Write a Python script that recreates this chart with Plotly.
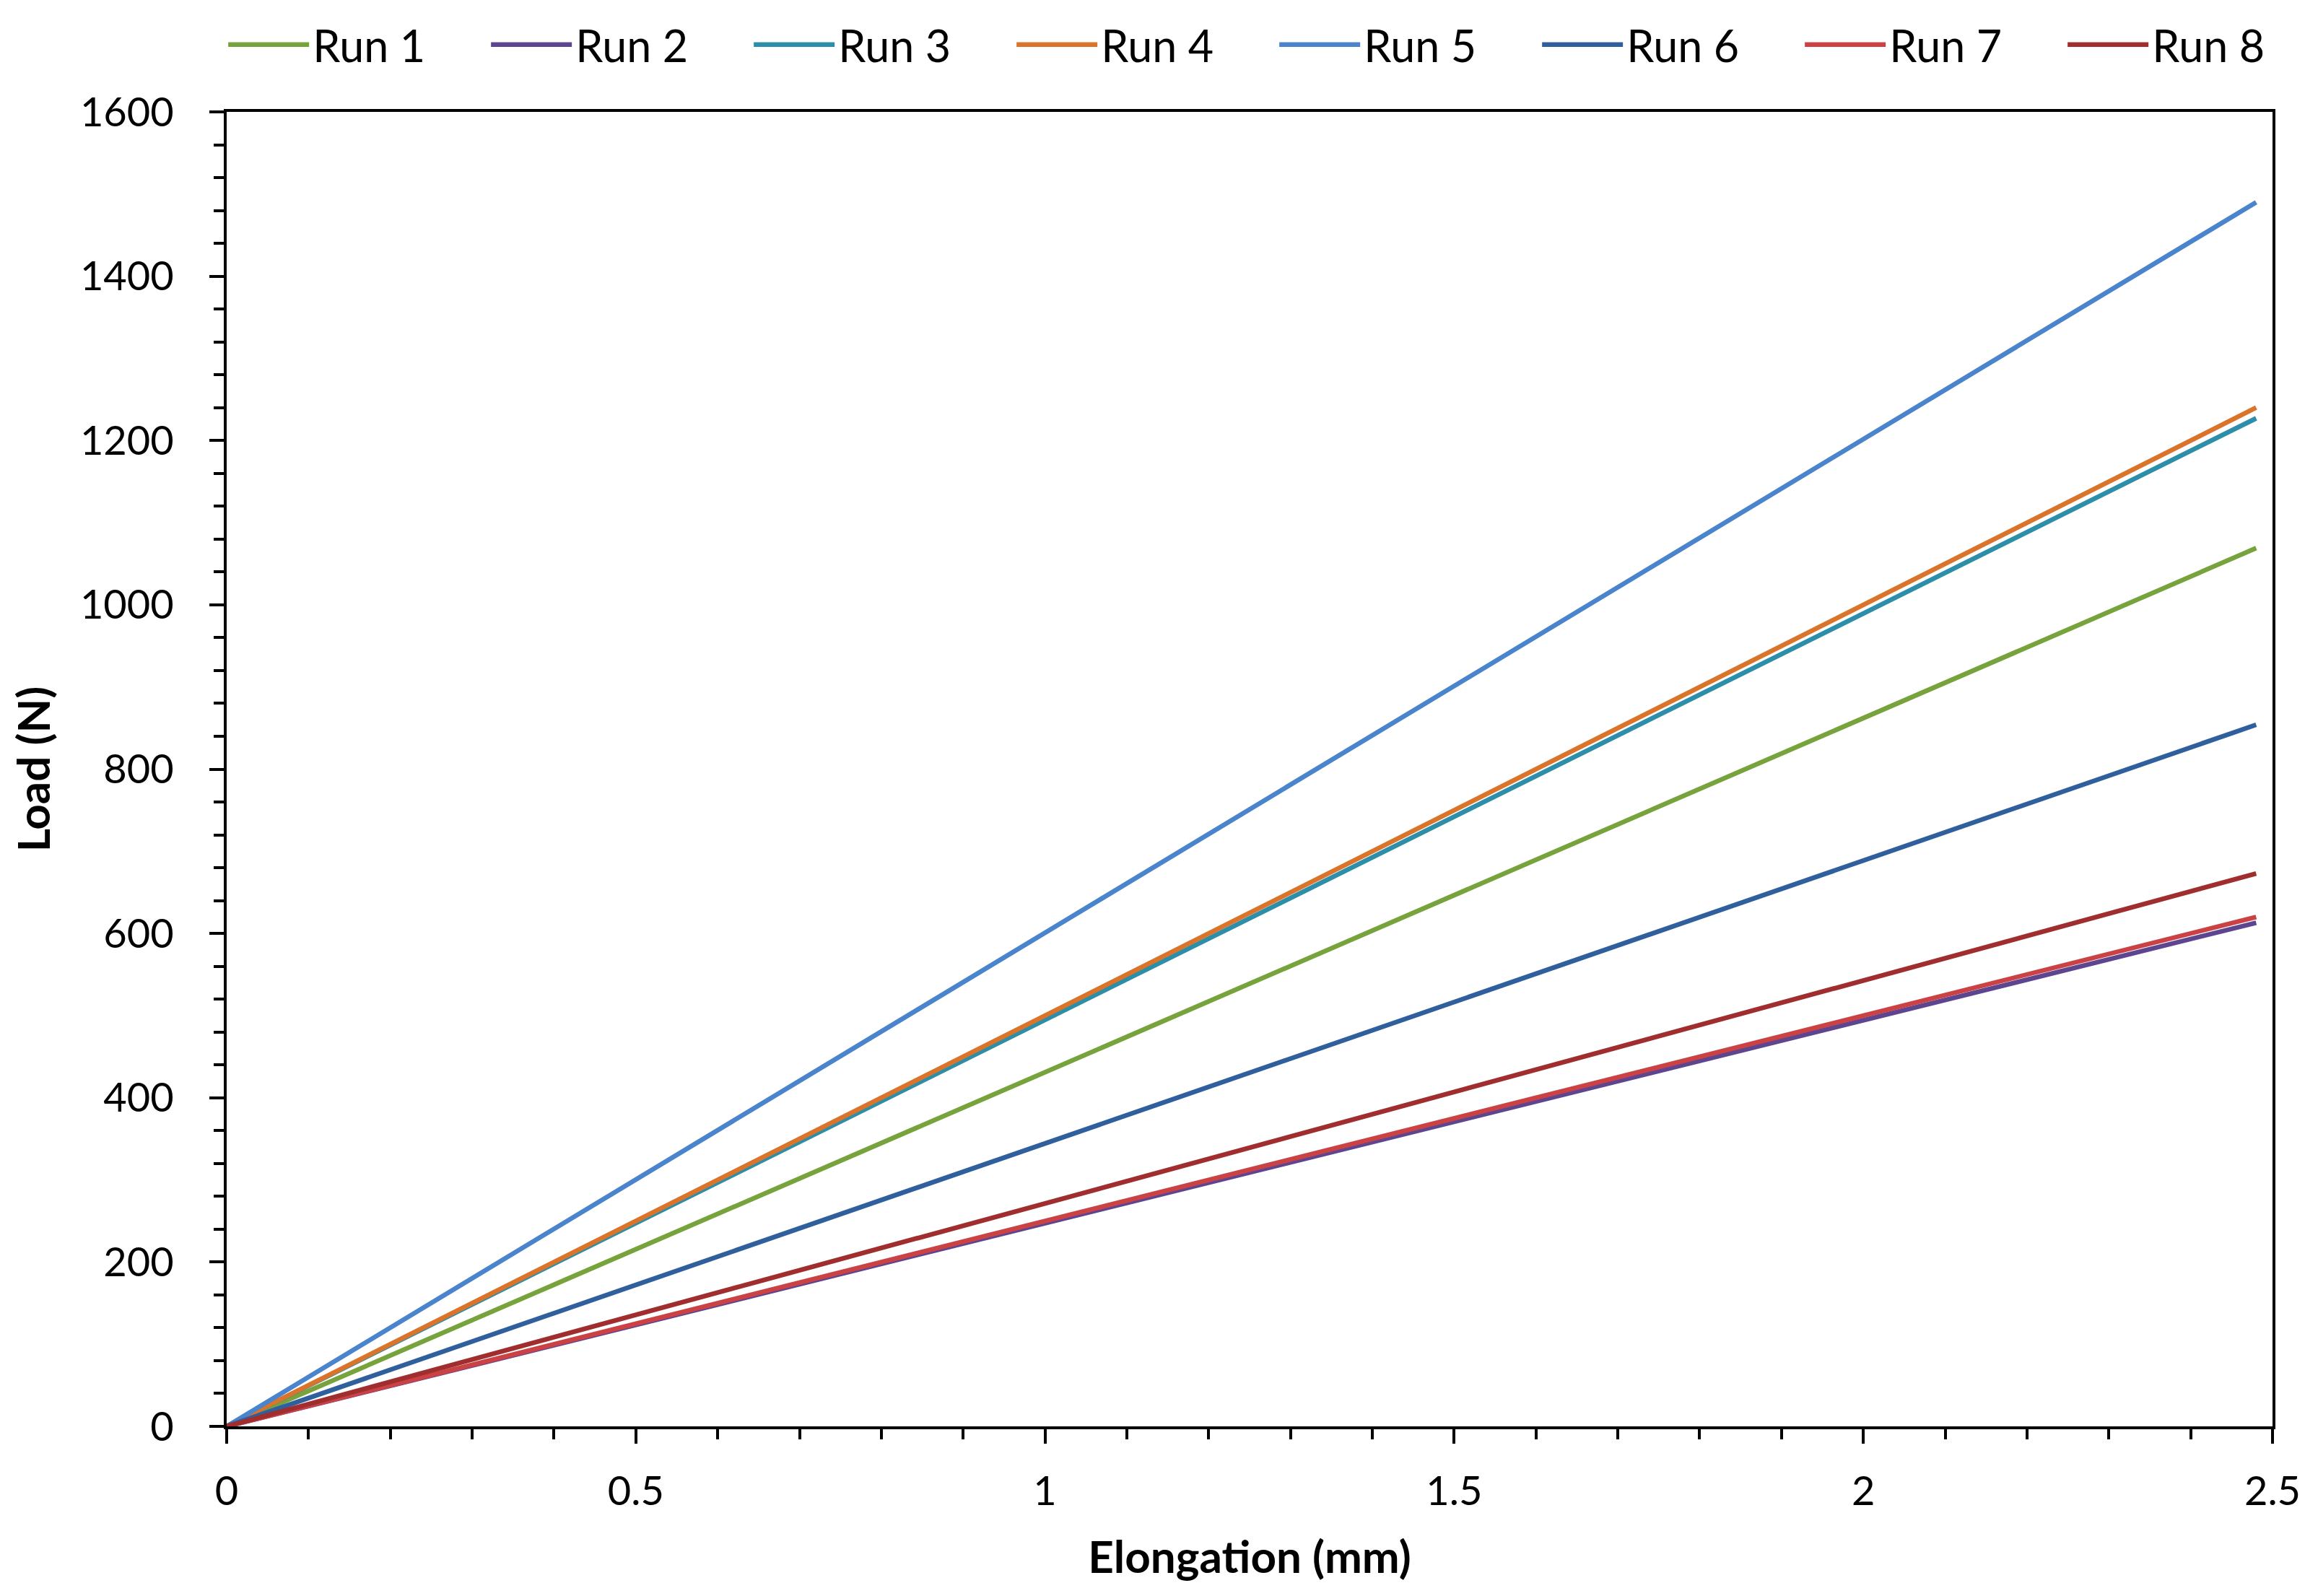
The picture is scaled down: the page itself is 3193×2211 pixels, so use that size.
import plotly.graph_objects as go

series_names = ["Run 1", "Run 2", "Run 3", "Run 4", "Run 5", "Run 6", "Run 7", "Run 8"]
elongation = [0.0, 2.48]
run1 = [0, 1069]
run2 = [0, 613]
run3 = [0, 1227]
run4 = [0, 1240]
run5 = [0, 1490]
run6 = [0, 854]
run7 = [0, 620]
run8 = [0, 673]
all_runs = [run1, run2, run3, run4, run5, run6, run7, run8]
colors = ["#77A33C", "#5E4590", "#2C8EA8", "#DA742A", "#4A84CC", "#2F5F9C", "#CB4244", "#A02E2E"]

fig = go.Figure()
for name, ys, c in zip(series_names, all_runs, colors):
    fig.add_trace(go.Scatter(x=elongation, y=ys, mode="lines", name=name,
                             line=dict(color=c, width=6.5)))

FONT = "Lato"
fig.update_layout(
    width=3193, height=2211,
    paper_bgcolor="white", plot_bgcolor="white",
    margin=dict(l=306, r=53, t=147, b=243, autoexpand=False),
    font=dict(family=FONT, size=56, color="black"),
    showlegend=True,
    legend=dict(orientation="h", x=-0.001, xanchor="left", y=1.051, yanchor="middle",
                font=dict(family=FONT, size=61, color="black"),
                itemwidth=112, entrywidth=237, entrywidthmode="pixels",
                bgcolor="rgba(0,0,0,0)", tracegroupgap=0),
)
fig.update_xaxes(
    range=[0, 2.5], tickmode="linear", tick0=0, dtick=0.5,
    ticks="outside", ticklen=20, tickwidth=4, tickcolor="black",
    showline=True, linewidth=4, linecolor="black", mirror=True,
    showgrid=False, zeroline=False,
    tickfont=dict(family=FONT, size=56, color="black"),
    ticklabelstandoff=18,
    minor=dict(ticks="outside", ticklen=14, tickwidth=4, tickcolor="black", dtick=0.1, showgrid=False),
    title=dict(text="<b>Elongation (mm)</b>", font=dict(family=FONT, size=62, color="black"), standoff=40),
)
fig.update_yaxes(
    range=[0, 1600], tickmode="linear", tick0=0, dtick=200,
    ticks="outside", ticklen=20, tickwidth=4, tickcolor="black",
    showline=True, linewidth=4, linecolor="black", mirror=True,
    showgrid=False, zeroline=False,
    tickfont=dict(family=FONT, size=56, color="black"),
    ticklabelstandoff=38,
    minor=dict(ticks="outside", ticklen=14, tickwidth=4, tickcolor="black", dtick=40, showgrid=False),
    title=dict(text="<b>Load (N)</b>", font=dict(family=FONT, size=62, color="black"), standoff=23),
)

fig.write_html("out.html")
